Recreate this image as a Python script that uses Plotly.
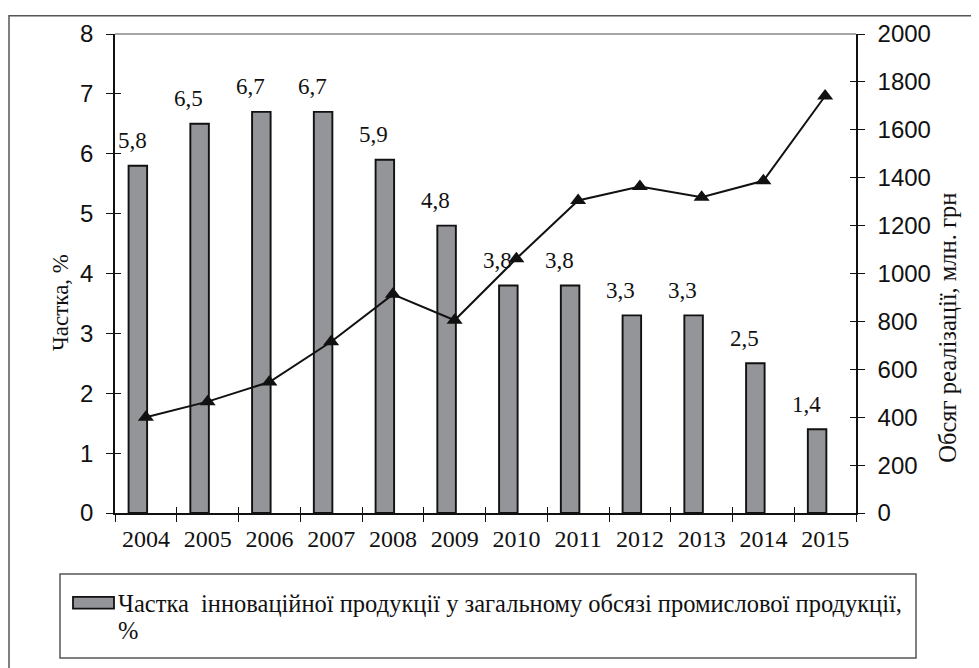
import plotly.graph_objects as go

years = ["2004", "2005", "2006", "2007", "2008", "2009", "2010", "2011", "2012", "2013", "2014", "2015"]
share_pct = [5.8, 6.5, 6.7, 6.7, 5.9, 4.8, 3.8, 3.8, 3.3, 3.3, 2.5, 1.4]
sales_mln = [400, 465, 547, 715, 913, 805, 1062, 1305, 1363, 1318, 1387, 1741]

legend_line1 = "Частка \u00a0інноваційної продукції у загальному обсязі промислової продукції,"
legend_line2 = "%"
left_title = "Частка, %"
right_title = "Обсяг реалізації, млн. грн"

# page has an 8px body margin; figure is sized to fit the 979x668 window
OFF = 8
W, H = 979 - OFF, 668 - OFF
# plot area in page pixels: x 115..856, y 27..513
L, R, T, B = 115 - OFF, W - (856 - OFF), 27 - OFF, H - (513 - OFF)
PW, PH = W - L - R, H - T - B

def px(xp):
    return (xp - OFF - L) / PW

def py(yp):
    return (H - B - (yp - OFF)) / PH

SERIF = "Liberation Serif, Times New Roman, serif"
SANS = "Liberation Sans, Arial, sans-serif"
INK = "#111111"

fig = go.Figure()

fig.add_trace(go.Bar(
    x=years, y=share_pct, width=0.3, offset=-0.28,
    marker=dict(color="#939598", line=dict(color=INK, width=1.9)),
    xaxis="x", yaxis="y", showlegend=False, hoverinfo="x+y",
))

fig.add_trace(go.Scatter(
    x=years, y=sales_mln, mode="lines+markers",
    line=dict(color=INK, width=2),
    marker=dict(symbol="triangle-up", size=14, color=INK),
    xaxis="x", yaxis="y2", showlegend=False,
))

# invisible helper traces so the crossing-tick overlay axes render
fig.add_trace(go.Scatter(x=years, y=share_pct, mode="markers", marker=dict(opacity=0),
                         xaxis="x2", yaxis="y3", showlegend=False, hoverinfo="skip"))
fig.add_trace(go.Scatter(x=years, y=sales_mln, mode="markers", marker=dict(opacity=0),
                         xaxis="x2", yaxis="y4", showlegend=False, hoverinfo="skip"))

annotations = []
for i, v in enumerate(share_pct):
    annotations.append(dict(
        x=i, y=v, xref="x", yref="y", text=f"{v:.1f}".replace(".", ","),
        showarrow=False, xshift=(-13 if i == 0 else -19), yshift=25,
        yanchor="middle", xanchor="center",
        font=dict(family=SERIF, size=23, color=INK),
    ))

annotations.append(dict(x=px(60), y=py(299), xref="paper", yref="paper", text=left_title,
                        textangle=-90, showarrow=False, xanchor="center", yanchor="middle",
                        font=dict(family=SERIF, size=23, color=INK)))
annotations.append(dict(x=px(948), y=py(325), xref="paper", yref="paper", text=right_title,
                        textangle=-90, showarrow=False, xanchor="center", yanchor="middle",
                        font=dict(family=SERIF, size=24.5, color=INK)))
annotations.append(dict(x=px(116), y=py(605), xref="paper", yref="paper", text=legend_line1,
                        showarrow=False, xanchor="left", yanchor="middle",
                        font=dict(family=SERIF, size=24.5, color=INK)))
annotations.append(dict(x=px(116), y=py(632), xref="paper", yref="paper", text=legend_line2,
                        showarrow=False, xanchor="left", yanchor="middle",
                        font=dict(family=SERIF, size=24.5, color=INK)))

shapes = [
    # outer frame
    dict(type="rect", xref="paper", yref="paper", x0=px(9), x1=px(1000), y0=py(8.5), y1=py(700),
         line=dict(color="#555555", width=1.5)),
    # top border of plot area
    dict(type="line", xref="paper", yref="paper", x0=0, x1=1, y0=1, y1=1,
         line=dict(color="#888888", width=1.5)),
    # legend box
    dict(type="rect", xref="paper", yref="paper", x0=px(60), x1=px(916), y0=py(575), y1=py(660),
         line=dict(color="#555555", width=1.5)),
    # legend symbol
    dict(type="rect", xref="paper", yref="paper", x0=px(73), x1=px(114), y0=py(598), y1=py(610),
         fillcolor="#939598", line=dict(color=INK, width=1.8)),
]

tick_common = dict(showgrid=False, zeroline=False, tickcolor=INK, tickwidth=1.3)
axis_common = dict(linecolor=INK, linewidth=1.5, **tick_common)

fig.update_layout(
    width=W, height=H,
    margin=dict(l=L, r=R, t=T, b=B, pad=0),
    paper_bgcolor="white", plot_bgcolor="white",
    xaxis=dict(type="category", categoryorder="array", categoryarray=years,
               range=[-0.5, len(years) - 0.5], tickson="boundaries", ticks="outside", ticklen=7,
               showline=True, tickfont=dict(family=SERIF, size=24, color=INK),
               ticklabelstandoff=3, **axis_common),
    xaxis2=dict(type="category", categoryorder="array", categoryarray=years, overlaying="x",
                range=[-0.5, len(years) - 0.5], tickson="boundaries", ticks="inside", ticklen=6,
                showticklabels=False, showline=False, side="bottom", **tick_common),
    yaxis=dict(range=[0, 8], dtick=1, ticks="outside", ticklen=7, showline=True,
               ticklabelstandoff=8,
               tickfont=dict(family=SANS, size=24, color=INK), **axis_common),
    yaxis2=dict(range=[0, 2000], dtick=200, ticks="outside", ticklen=7, showline=True,
                overlaying="y", side="right", ticklabelstandoff=8,
                tickfont=dict(family=SANS, size=24, color=INK), **axis_common),
    yaxis3=dict(range=[0, 8], dtick=1, ticks="inside", ticklen=6, showline=False,
                showticklabels=False, overlaying="y", side="left", **tick_common),
    yaxis4=dict(range=[0, 2000], dtick=200, ticks="inside", ticklen=6, showline=False,
                showticklabels=False, overlaying="y", side="right", **tick_common),
    annotations=annotations,
    shapes=shapes,
    showlegend=False,
    hovermode="closest",
)

fig.write_html("out.html")
